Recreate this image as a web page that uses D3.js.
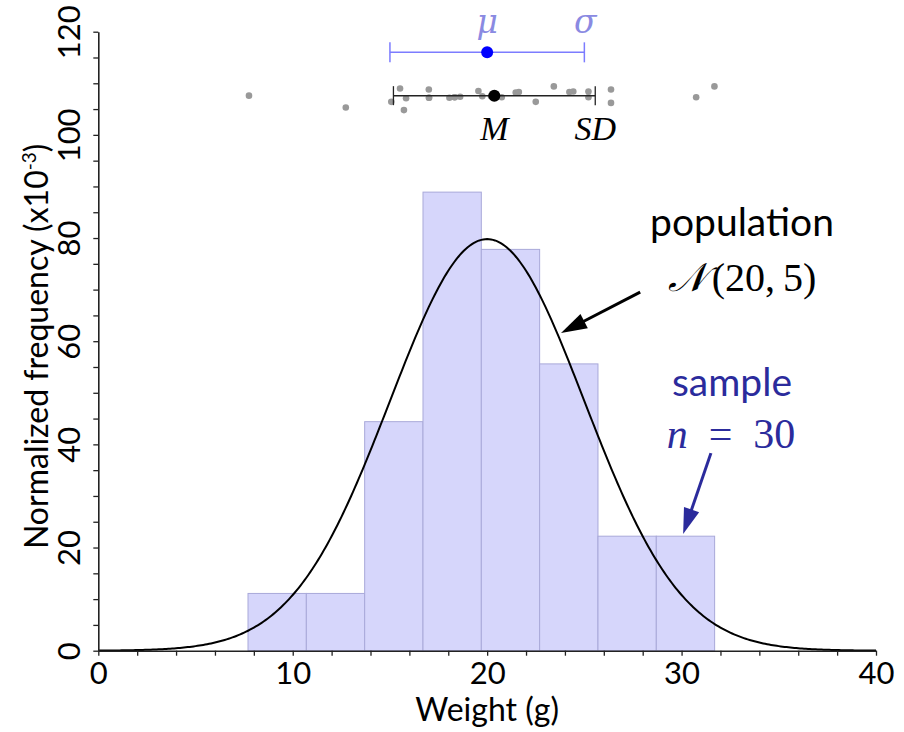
<!DOCTYPE html>
<html><head><meta charset="utf-8">
<script src="https://cdn.jsdelivr.net/npm/d3@7"></script>
<style>body{margin:0;background:#fff} svg{display:block}</style>
</head><body><svg id="c" width="904" height="732"></svg>
<script>
// ---- data ----
const binStarts = [7.7, 10.7, 13.7, 16.7, 19.7, 22.7, 25.7, 28.7];
const binWidth = 3;
const binFreq = [11.1, 11.1, 44.4, 88.9, 77.8, 55.6, 22.2, 22.2];
const sampleX = [7.75, 12.73, 15.07, 15.52, 15.83, 15.72, 17.00, 17.01, 17.01, 18.06, 18.33, 18.33, 18.61, 19.55, 19.75,
                 20.2, 20.5, 20.75, 21.47, 21.63, 22.50, 23.43, 24.23, 24.43, 25.21, 25.21, 26.37, 26.37, 30.75, 31.69];
const sampleY = [107.6, 105.3, 106.4, 109.0, 107.1, 104.8, 108.8, 107.2, 107.2, 107.2, 107.3, 107.3, 107.4, 108.5, 107.5,
                 107.5, 107.4, 107.3, 108.2, 108.3, 106.4, 109.4, 108.3, 108.4, 108.4, 107.3, 108.8, 106.2, 107.3, 109.4];
const popMean = 20, popSD = 5, popMarkerY = 116.0;
const sampleMean = 20.37, sampleSD = 5.19, sampleMarkerY = 107.6;
const xTickLabels = [0, 10, 20, 30, 40];
const yTickLabels = [0, 20, 40, 60, 80, 100, 120];

// ---- scales ----
const svg = d3.select('#c');
const x = d3.scaleLinear().domain([0, 40]).range([98.3, 876]);
const y = d3.scaleLinear().domain([0, 120]).range([650.7, 31.7]);
const SANS = "Lato, 'Open Sans', sans-serif";
const SERIF = "'Liberation Serif', 'DejaVu Serif', serif";
const MATH = "'DejaVu Serif', 'Liberation Serif', serif";

// bars
svg.append('g').selectAll('rect').data(binStarts).join('rect')
  .attr('x', d => x(d)).attr('width', d => x(d + binWidth) - x(d))
  .attr('y', (d, i) => y(binFreq[i])).attr('height', (d, i) => y(0) - y(binFreq[i]))
  .attr('fill', '#d6d6fb').attr('stroke', '#a9a9d9').attr('stroke-width', 1);

// population curve
const pdf = v => 1000 * Math.exp(-0.5 * ((v - popMean) / popSD) ** 2) / (popSD * Math.sqrt(2 * Math.PI));
const curvePts = d3.range(0, 40.0001, 0.1).map(v => [v, pdf(v)]);
svg.append('path').datum(curvePts)
  .attr('d', d3.line().x(d => x(d[0])).y(d => y(d[1])))
  .attr('fill', 'none').attr('stroke', '#000').attr('stroke-width', 2);

// axes
const gx = svg.append('g').attr('transform', `translate(0,${y(0)})`)
  .call(d3.axisBottom(x).tickValues(d3.range(0, 40.001, 2)).tickSize(5).tickSizeOuter(0)
    .tickFormat(d => xTickLabels.includes(d) ? d : ''));
const gy = svg.append('g').attr('transform', `translate(${x(0)},0)`)
  .call(d3.axisLeft(y).tickValues(d3.range(0, 120.001, 5)).tickSize(5).tickSizeOuter(0)
    .tickFormat(d => yTickLabels.includes(d) ? d : ''));
[gx, gy].forEach(g => {
  g.select('.domain').attr('stroke', '#222').attr('stroke-width', 1.6);
  g.selectAll('.tick line').attr('stroke', '#222').attr('stroke-width', 1.3);
  g.selectAll('.tick text').attr('font-family', SANS).attr('font-size', 31).attr('fill', '#000');
});
gx.selectAll('.tick text').attr('y', 11).attr('dy', '0.71em');
gy.selectAll('.tick text').attr('x', null).attr('dy', null)
  .attr('text-anchor', 'middle').attr('transform', 'translate(-18,0) rotate(-90)');

// axis titles
svg.append('text').attr('x', x(20)).attr('y', 721).attr('text-anchor', 'middle')
  .attr('font-family', SANS).attr('font-size', 32).text('Weight (g)');
const yt = svg.append('text').attr('transform', `translate(48,${y(59)}) rotate(-90)`).attr('text-anchor', 'middle')
  .attr('font-family', SANS).attr('font-size', 32);
yt.append('tspan').text('Normalized frequency (x10');
yt.append('tspan').attr('font-size', 19).attr('dy', -12).text('-3');
yt.append('tspan').attr('dy', 12).text(')');

// population marker
const popG = svg.append('g');
popG.append('line').attr('x1', x(popMean - popSD)).attr('x2', x(popMean + popSD))
  .attr('y1', y(popMarkerY)).attr('y2', y(popMarkerY)).attr('stroke', '#7c7cff').attr('stroke-width', 1.5);
[popMean - popSD, popMean + popSD].forEach(v => popG.append('line')
  .attr('x1', x(v)).attr('x2', x(v)).attr('y1', y(popMarkerY) - 10).attr('y2', y(popMarkerY) + 10)
  .attr('stroke', '#7c7cff').attr('stroke-width', 1.5));
popG.append('circle').attr('cx', x(popMean)).attr('cy', y(popMarkerY)).attr('r', 6).attr('fill', '#0000ff');
popG.append('text').attr('x', x(popMean)).attr('y', 33).attr('text-anchor', 'middle').attr('font-family', MATH)
  .attr('font-style', 'italic').attr('font-size', 33).attr('fill', '#8a8ae2').text('μ');
popG.append('text').attr('x', x(popMean + popSD) + 1).attr('y', 33).attr('text-anchor', 'middle').attr('font-family', MATH)
  .attr('font-style', 'italic').attr('font-size', 33).attr('fill', '#8a8ae2').text('σ');

// sample dots
svg.append('g').selectAll('circle').data(sampleX).join('circle')
  .attr('cx', d => x(d)).attr('cy', (d, i) => y(sampleY[i])).attr('r', 3.3).attr('fill', '#999');

// sample marker
const smG = svg.append('g');
smG.append('line').attr('x1', x(sampleMean - sampleSD)).attr('x2', x(sampleMean + sampleSD))
  .attr('y1', y(sampleMarkerY)).attr('y2', y(sampleMarkerY)).attr('stroke', '#222').attr('stroke-width', 1.5);
[sampleMean - sampleSD, sampleMean + sampleSD].forEach(v => smG.append('line')
  .attr('x1', x(v)).attr('x2', x(v)).attr('y1', y(sampleMarkerY) - 9.5).attr('y2', y(sampleMarkerY) + 9.5)
  .attr('stroke', '#222').attr('stroke-width', 1.3));
smG.append('circle').attr('cx', x(sampleMean)).attr('cy', y(sampleMarkerY)).attr('r', 6).attr('fill', '#000');
smG.append('text').attr('x', x(sampleMean)).attr('y', 140).attr('text-anchor', 'middle').attr('font-family', SERIF)
  .attr('font-style', 'italic').attr('font-size', 34).text('M');
smG.append('text').attr('x', x(sampleMean + sampleSD)).attr('y', 140).attr('text-anchor', 'middle').attr('font-family', SERIF)
  .attr('font-style', 'italic').attr('font-size', 34).text('SD');

// annotations
function arrow(x1, y1, x2, y2, color) {
  const X1 = x(x1), Y1 = y(y1), X2 = x(x2), Y2 = y(y2);
  const L = Math.hypot(X2 - X1, Y2 - Y1), ux = (X2 - X1) / L, uy = (Y2 - Y1) / L;
  const hl = 26, hw = 8;
  const bx = X2 - ux * hl, by = Y2 - uy * hl;
  svg.append('line').attr('x1', X1).attr('y1', Y1).attr('x2', bx + ux * 2).attr('y2', by + uy * 2)
    .attr('stroke', color).attr('stroke-width', 3);
  svg.append('path').attr('d', `M${X2},${Y2}L${bx - uy * hw},${by + ux * hw}L${bx + uy * hw},${by - ux * hw}Z`)
    .attr('fill', color);
}
arrow(27.87, 69.5, 23.8, 61.6, '#000');
arrow(31.51, 38.3, 30.08, 22.6, '#2b2b9c');

svg.append('text').attr('x', 742).attr('y', 236).attr('text-anchor', 'middle')
  .attr('font-family', SANS).attr('font-size', 39).text('population');
const nt = svg.append('text').attr('x', 742).attr('y', 291).attr('text-anchor', 'middle')
  .attr('font-family', SERIF).attr('font-size', 40);
nt.append('tspan').attr('font-style', 'italic').text('𝒩');
nt.append('tspan').attr('dx', 6).text('(20,\u20095)');

svg.append('text').attr('x', 732).attr('y', 396).attr('text-anchor', 'middle')
  .attr('font-family', SANS).attr('font-size', 39).attr('fill', '#2b2b9c').text('sample');
const st = svg.append('text').attr('x', 731).attr('y', 448).attr('text-anchor', 'middle')
  .attr('font-family', SERIF).attr('font-size', 42).attr('fill', '#2b2b9c');
st.append('tspan').attr('font-style', 'italic').text('n');
st.append('tspan').text('\u2002=\u200230');
</script></body></html>
